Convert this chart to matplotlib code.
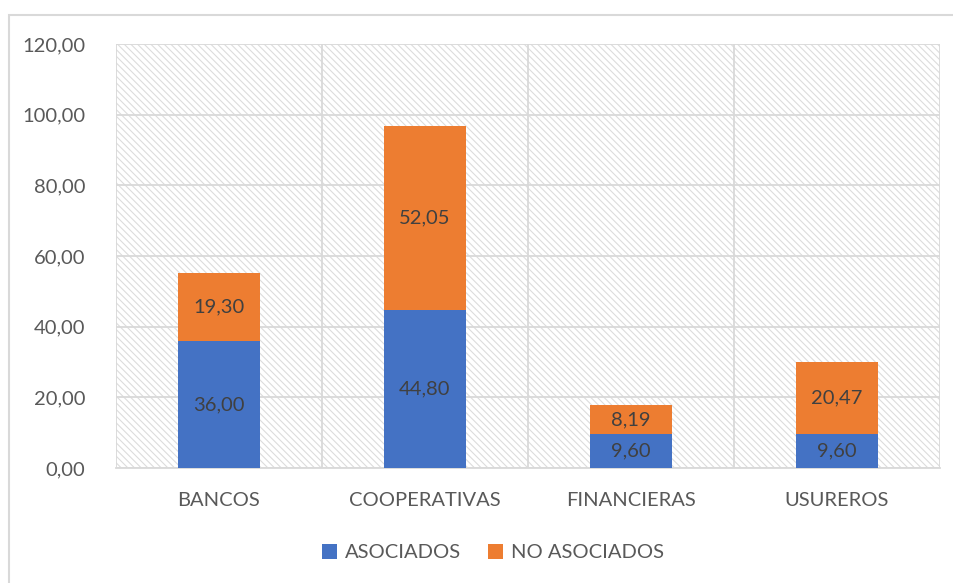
import matplotlib.pyplot as plt
from matplotlib.patches import Rectangle
from matplotlib.ticker import FuncFormatter

categories = ["BANCOS", "COOPERATIVAS", "FINANCIERAS", "USUREROS"]
asociados = [36.00, 44.80, 9.60, 9.60]
no_asociados = [19.30, 52.05, 8.19, 20.47]
yticks = [0, 20, 40, 60, 80, 100, 120]

BLUE = "#4472C4"
ORANGE = "#ED7D31"
GRID = "#d9d9d9"
TXT = "#595959"
LBL = "#404040"
FS = 14.5

plt.rcParams["font.family"] = ["Lato", "DejaVu Sans"]
plt.rcParams["hatch.linewidth"] = 0.8


def fmt(v):
    return f"{v:.2f}".replace(".", ",")


fig = plt.figure(figsize=(9.54, 5.83), dpi=100)
ax = fig.add_axes([116 / 954, 1 - 468 / 583, (940 - 116) / 954, (468 - 44) / 583])

# outer chart border
fig.patches.append(Rectangle((9 / 954, -0.05), 1.0, 1 - 15 / 583 + 0.05,
                             transform=fig.transFigure, fill=False,
                             edgecolor=GRID, linewidth=1.5))

# hatched plot area
ax.add_patch(Rectangle((0, 0), 1, 1, transform=ax.transAxes, facecolor="white",
                       edgecolor="#dcdcdc", linewidth=0, hatch="\\\\\\\\\\", zorder=0))

x = range(len(categories))
b1 = ax.bar(x, asociados, width=0.4, color=BLUE, zorder=3, label="ASOCIADOS")
b2 = ax.bar(x, no_asociados, width=0.4, bottom=asociados, color=ORANGE, zorder=3,
            label="NO ASOCIADOS")

for i in x:
    ax.text(i, asociados[i] / 2, fmt(asociados[i]), ha="center", va="center",
            fontsize=FS, color=LBL, zorder=4)
    ax.text(i, asociados[i] + no_asociados[i] / 2, fmt(no_asociados[i]),
            ha="center", va="center", fontsize=FS, color=LBL, zorder=4)

ax.set_xlim(-0.5, len(categories) - 0.5)
ax.set_ylim(0, 120)
ax.set_yticks(yticks)
ax.yaxis.set_major_formatter(FuncFormatter(lambda v, p: fmt(v)))
ax.set_xticks(list(x))
ax.set_xticklabels(categories)
ax.set_xticks([i + 0.5 for i in range(-1, len(categories))], minor=True)

ax.grid(axis="y", which="major", color=GRID, linewidth=1.3, zorder=1)
ax.grid(axis="x", which="minor", color=GRID, linewidth=1.3, zorder=1)
ax.set_axisbelow(True)
for s in ax.spines.values():
    s.set_visible(False)
ax.spines["bottom"].set_visible(True)
ax.spines["bottom"].set_color(GRID)
ax.spines["bottom"].set_linewidth(1.3)
ax.tick_params(axis="both", which="both", length=0, labelsize=FS, colors=TXT)
ax.tick_params(axis="x", pad=17)
ax.tick_params(axis="y", pad=22)

ax.legend(handles=[b1, b2], loc="center", bbox_to_anchor=(0.4575, -0.2),
          ncol=2, frameon=False, fontsize=FS, handlelength=0.75, handleheight=0.75,
          columnspacing=1.3, handletextpad=0.4, labelcolor=TXT)

fig.savefig("out.png", dpi=100)
